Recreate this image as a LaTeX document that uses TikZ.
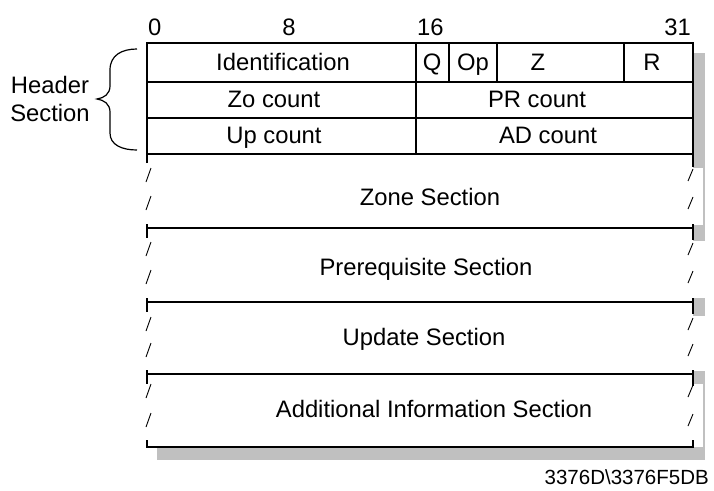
\documentclass[tikz,border=0pt]{standalone}
\usepackage{fontspec}
\setmainfont{Liberation Sans}
\usetikzlibrary{positioning}
\definecolor{fshadow}{HTML}{C0C0C0}
\tikzset{
  fieldtxt/.style={font=\fontsize{23.8}{28}\selectfont, inner sep=0pt, text height=17pt, text depth=0pt},
  rule/.style={line width=1.8pt},
  divider/.style={line width=1.3pt},
  cutmark/.style={line width=0.9pt}
}
\begin{document}
\begin{tikzpicture}[x=1pt,y=-1pt]
 \useasboundingbox (0,0) rectangle (714,490);
 \fill[fshadow] (157,53) rectangle (705,460);
 \fill[white] (147,43) rectangle (693,447);
 \fill[white] (693,168) rectangle (703,225);
 \fill[white] (693,241) rectangle (706,298);
 \fill[white] (693,316) rectangle (706,371);
 \fill[white] (693,384) rectangle (703,447);
 \draw[rule] (147,163) -- (147,43) -- (693,43) -- (693,167);
 \foreach \r in {82,118,154} \draw[rule] (147,\r) -- (693,\r);
 \draw[divider] (416,43) -- (416,154);
 \foreach \c in {449,497,624} \draw[divider] (\c,43) -- (\c,82);
 \foreach \s in {228,302,374} {
  \draw[rule] (147,\s) -- (693,\s);
  \draw[rule] (147,\s-4) -- (147,\s+10);
  \draw[rule] (693,\s-4) -- (693,\s+12);
 }
 \draw[rule] (147,440) -- (147,447) -- (693,447) -- (693,440);
 \foreach \y in {175,203,249,277,324,350,391,420} {
  \draw[cutmark] (146,\y+7) -- (151,\y-7);
  \draw[cutmark] (688,\y+6) -- (693,\y-6);
 }
 \node[fieldtxt, anchor=west] (bit0) at (148,27) {0};
 \node[fieldtxt] (bit8) at (289,27) {8};
 \node[fieldtxt, anchor=west] (bit16) at (417,27) {16};
 \node[fieldtxt, anchor=east] (bit31) at (691,27) {31};
 \node[fieldtxt] (ident) at (283,62) {Identification};
 \node[fieldtxt] (fq) at (432,62) {Q};
 \node[fieldtxt] (fop) at (473,62) {Op};
 \node[fieldtxt] (fz) at (538,62) {Z};
 \node[fieldtxt] (fr) at (652,62) {R};
 \node[fieldtxt] (zocnt) at (274,99) {Zo count};
 \node[fieldtxt] (prcnt) at (537,99) {PR count};
 \node[fieldtxt] (upcnt) at (274,135) {Up count};
 \node[fieldtxt] (adcnt) at (548,135) {AD count};
 \node[fieldtxt] (zonesec) at (430,197) {Zone Section};
 \node[fieldtxt] (prqsec) at (426,267) {Prerequisite Section};
 \node[fieldtxt] (updsec) at (424,337) {Update Section};
 \node[fieldtxt] (addsec) at (434,409) {Additional Information Section};
 \node[fieldtxt] (hdrA) at (50,85) {Header};
 \node[fieldtxt] (hdrB) at (50,113) {Section};
 \draw[line width=1.2pt] (137,49) .. controls (122,49) and (110,55) .. (110,70)
  -- (110,86) .. controls (110,94) and (104,98) .. (97,99)
  .. controls (104,100) and (110,104) .. (110,112)
  -- (110,133) .. controls (110,145) and (122,150) .. (137,150);
 \node[font=\fontsize{20.5}{24}\selectfont, inner sep=0pt, anchor=east] (figid) at (709,477) {3376D\textbackslash 3376F5DB};
\end{tikzpicture}
\end{document}
